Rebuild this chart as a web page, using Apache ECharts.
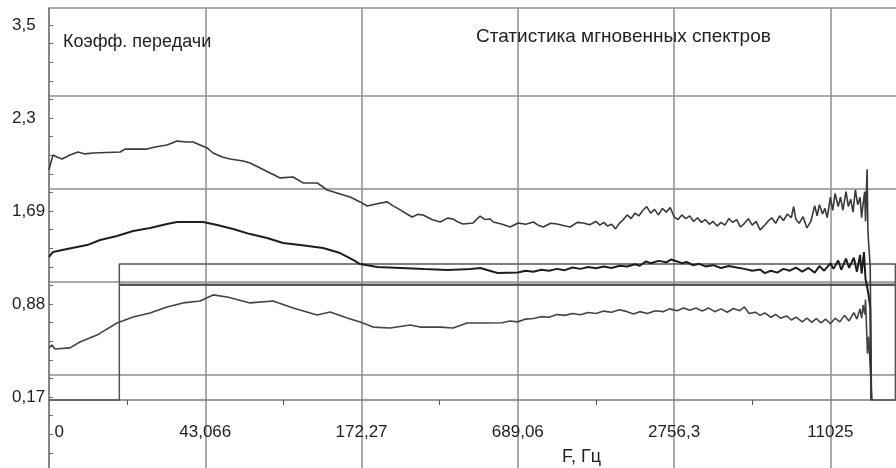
<!DOCTYPE html>
<html lang="ru">
<head>
<meta charset="UTF-8">
<title>Статистика мгновенных спектров</title>
<script src="https://cdn.jsdelivr.net/npm/echarts@6/dist/echarts.min.js"></script>
<style>html,body{margin:0;background:#fff}</style>
</head>
<body>
<div id="main" style="width:896px;height:468px"></div>
<script>
// x is in "steps" from the left edge, one step = x4 in frequency (log scale)
var xLabels = ['0', '43,066', '172,27', '689,06', '2756,3', '11025'];
var xLabelPos = [0.065, 1, 2, 3, 4, 5];
var xMinorTicks = [0.5, 1.5, 2.5, 3.5, 4.5];
// y is in minor-tick units, 0 = baseline of the plot
var yLabels = ['0,17', '0,88', '1,69', '2,3', '3,5'];
var yLabelPos = [0.16, 5.16, 10.16, 15.16, 20.16];

var upper = [
  [0, 12.37], [0.013, 12.8], [0.026, 13.17], [0.051, 13.06], [0.083, 12.96], [0.134, 13.17],
  [0.186, 13.33], [0.23, 13.23], [0.282, 13.28], [0.455, 13.33], [0.487, 13.49], [0.627, 13.49],
  [0.679, 13.6], [0.755, 13.71], [0.819, 13.92], [0.883, 13.87], [0.922, 13.87], [0.967, 13.71],
  [1.012, 13.55], [1.05, 13.28], [1.108, 13.06], [1.159, 12.96], [1.242, 12.85], [1.287, 12.74],
  [1.351, 12.47], [1.415, 12.2], [1.479, 11.94], [1.562, 11.99], [1.626, 11.67], [1.716, 11.67],
  [1.78, 11.29], [1.863, 11.08], [1.927, 10.91], [1.991, 10.65], [2.036, 10.43], [2.1, 10.55],
  [2.164, 10.65], [2.2, 10.45], [2.247, 10.22], [2.29, 10.0], [2.324, 9.84], [2.36, 9.98],
  [2.394, 9.95], [2.45, 9.7], [2.503, 9.57], [2.55, 9.78], [2.586, 9.73], [2.62, 9.55],
  [2.65, 9.46], [2.714, 9.52], [2.759, 9.89], [2.79, 9.7], [2.823, 9.73], [2.843, 9.57],
  [2.9, 9.45], [2.951, 9.3], [3.002, 9.52], [3.05, 9.45], [3.099, 9.57], [3.13, 9.4],
  [3.163, 9.3], [3.21, 9.5], [3.252, 9.46], [3.29, 9.38], [3.335, 9.3], [3.38, 9.55],
  [3.419, 9.52], [3.46, 9.42],
  [3.5, 9.6], [3.525, 9.4], [3.55, 9.55], [3.575, 9.35], [3.6, 9.45], [3.625, 9.2],
  [3.65, 9.5], [3.675, 9.7], [3.7, 9.95], [3.725, 9.75], [3.75, 10.05], [3.775, 9.9],
  [3.8, 10.2], [3.825, 10.4], [3.85, 10.05], [3.875, 10.25], [3.9, 9.95], [3.925, 10.3],
  [3.95, 10.1], [3.975, 10.35], [4.0, 9.85], [4.025, 9.7], [4.05, 9.95], [4.075, 9.75],
  [4.1, 9.9], [4.125, 9.6], [4.15, 9.8], [4.175, 9.55], [4.2, 9.7], [4.225, 9.45],
  [4.25, 9.6], [4.275, 9.35], [4.3, 9.55], [4.325, 9.4], [4.35, 9.75], [4.375, 9.55],
  [4.4, 9.7], [4.425, 9.3], [4.45, 9.5], [4.475, 9.75], [4.5, 9.4], [4.525, 9.6],
  [4.55, 9.15], [4.575, 9.35], [4.6, 9.6], [4.625, 9.8], [4.65, 9.5], [4.675, 9.9],
  [4.7, 9.65], [4.725, 10.0], [4.75, 9.8], [4.765, 10.4], [4.78, 9.7], [4.8, 9.5],
  [4.825, 9.85], [4.85, 9.25], [4.875, 9.6], [4.9, 10.45], [4.915, 9.9], [4.93, 10.5],
  [4.95, 10.0], [4.965, 10.3], [4.98, 9.8], [5.0, 10.9], [5.015, 10.2], [5.03, 11.1],
  [5.05, 10.4], [5.065, 10.9], [5.08, 10.2], [5.1, 11.2], [5.115, 10.4], [5.13, 10.8],
  [5.145, 10.1], [5.16, 11.3], [5.175, 10.5], [5.19, 10.9], [5.2, 9.8], [5.21, 10.6],
  [5.22, 11.2], [5.225, 9.6], [5.235, 12.4], [5.24, 9.2], [5.245, 8.4], [5.25, 7.8],
  [5.255, 7.2], [5.262, 0]
];

var middle = [
  [0, 7.69], [0.026, 7.96], [0.116, 8.12], [0.244, 8.33], [0.327, 8.6], [0.435, 8.82],
  [0.538, 9.09], [0.647, 9.25], [0.755, 9.46], [0.819, 9.57], [0.986, 9.57], [1.076, 9.41],
  [1.178, 9.19], [1.287, 8.92], [1.396, 8.71], [1.498, 8.44], [1.607, 8.33], [1.754, 8.17],
  [1.863, 7.9], [1.946, 7.53], [1.991, 7.31], [2.1, 7.15], [2.25, 7.1], [2.4, 7.04],
  [2.55, 6.99], [2.7, 7.04], [2.76, 7.1], [2.87, 6.83],
  [3.0, 6.85], [3.05, 6.95], [3.1, 6.9], [3.15, 7.0], [3.2, 6.95], [3.25, 7.05],
  [3.3, 6.98], [3.35, 7.12], [3.4, 7.05], [3.45, 7.15], [3.5, 7.08], [3.55, 7.18],
  [3.6, 7.1], [3.65, 7.22], [3.7, 7.18], [3.75, 7.3], [3.78, 7.22], [3.82, 7.45],
  [3.85, 7.35], [3.9, 7.48], [3.95, 7.4], [3.98, 7.55], [4.02, 7.45], [4.05, 7.35],
  [4.08, 7.42], [4.12, 7.25], [4.16, 7.32], [4.2, 7.18], [4.25, 7.25], [4.3, 7.1],
  [4.35, 7.2], [4.4, 7.12], [4.45, 7.05], [4.5, 6.95], [4.55, 7.02], [4.58, 6.82],
  [4.62, 6.95], [4.66, 6.85], [4.7, 7.05], [4.74, 6.95], [4.78, 7.12], [4.82, 6.9],
  [4.86, 7.1], [4.9, 6.85], [4.93, 7.2], [4.96, 6.95], [5.0, 7.35], [5.02, 7.05],
  [5.05, 7.5], [5.07, 7.0], [5.1, 7.6], [5.12, 7.1], [5.15, 7.65], [5.17, 6.9],
  [5.19, 7.8], [5.2, 6.8], [5.215, 7.95], [5.225, 6.5], [5.235, 6.1], [5.245, 5.6],
  [5.255, 5.0], [5.262, 0]
];

var lower = [
  [0, 2.8], [0.019, 2.96], [0.038, 2.74], [0.134, 2.8], [0.198, 3.12], [0.307, 3.49],
  [0.435, 4.14], [0.538, 4.46], [0.647, 4.68], [0.755, 5.0], [0.858, 5.22], [0.967, 5.32],
  [1.05, 5.65], [1.14, 5.54], [1.287, 5.22], [1.434, 5.32], [1.562, 4.95], [1.716, 4.57],
  [1.799, 4.73], [1.908, 4.41], [1.991, 4.19], [2.074, 3.92], [2.183, 3.87], [2.311, 4.03],
  [2.375, 3.92], [2.503, 3.92], [2.586, 3.87], [2.676, 4.14], [2.804, 4.14],
  [2.9, 4.15], [2.95, 4.25], [3.0, 4.2], [3.05, 4.35], [3.1, 4.38], [3.15, 4.48],
  [3.2, 4.45], [3.25, 4.6], [3.3, 4.55], [3.35, 4.65], [3.4, 4.58], [3.45, 4.7],
  [3.5, 4.65], [3.55, 4.78], [3.6, 4.72], [3.65, 4.85], [3.7, 4.75], [3.74, 4.62],
  [3.78, 4.75], [3.83, 4.65], [3.88, 4.8], [3.93, 4.75], [3.97, 4.9], [4.02, 4.8],
  [4.06, 4.95], [4.1, 4.82], [4.14, 4.95], [4.18, 4.78], [4.22, 4.95], [4.26, 4.75],
  [4.3, 4.9], [4.34, 4.72], [4.38, 4.92], [4.42, 4.8], [4.45, 5.0], [4.48, 4.65],
  [4.52, 4.72], [4.55, 4.55], [4.58, 4.68], [4.62, 4.45], [4.65, 4.6], [4.68, 4.4],
  [4.72, 4.52], [4.75, 4.3], [4.78, 4.45], [4.82, 4.2], [4.85, 4.4], [4.88, 4.18],
  [4.91, 4.38], [4.94, 4.15], [4.97, 4.35], [5.0, 4.1], [5.03, 4.4], [5.06, 4.2],
  [5.09, 4.55], [5.12, 4.25], [5.15, 4.7], [5.17, 4.35], [5.19, 4.9], [5.2, 4.4],
  [5.21, 5.1], [5.22, 4.6], [5.225, 5.4], [5.232, 3.8], [5.237, 2.5], [5.245, 3.4],
  [5.256, 1.6], [5.265, 0]
];

// pass band frame and reference level
var band = [[0, 0], [0.45, 0], [0.45, 7.31], [5.416, 7.31], [5.416, 0], [5.26, 0]];
var level = [[0.45, 6.2], [5.42, 6.2]];

var font = "'Liberation Sans', Arial, sans-serif";
var gridColor = '#8e8e8e';

var yTicks = [];
for (var k = -3; k <= 20; k++) yTicks.push(0.16 + k);

var chart = echarts.init(document.getElementById('main'));

function line(data, color, width) {
  return {
    type: 'line',
    data: data,
    showSymbol: false,
    silent: true,
    xAxisIndex: 0,
    yAxisIndex: 0,
    lineStyle: { color: color, width: width }
  };
}

function txt(size) {
  return { fontSize: size, fontWeight: 'normal', color: '#222', fontFamily: font };
}

chart.setOption({
  animation: false,
  backgroundColor: '#fff',
  title: [
    { text: 'Коэфф. передачи', left: 63, top: 33, padding: 0, textStyle: txt(18) },
    { text: 'Статистика мгновенных спектров', left: 476, top: 27, padding: 0, textStyle: txt(19) },
    { text: 'F, Гц', left: 562, top: 448, padding: 0, textStyle: txt(18) }
  ],
  grid: { left: 49, right: 0, top: 8, bottom: 0, containLabel: false, outerBoundsMode: 'none' },
  xAxis: [
    {
      // frequency axis sits on the plot baseline, 68px above the grid bottom
      type: 'value', min: 0, max: 5.42, position: 'bottom', offset: -68,
      axisLine: { onZero: false, lineStyle: { color: '#7a7a7a', width: 1.5 } },
      axisTick: { customValues: xMinorTicks, length: 5, lineStyle: { color: '#555' } },
      axisLabel: {
        customValues: xLabelPos,
        formatter: function (v) { return xLabels[Math.round(v)]; },
        margin: 24, color: '#222', fontSize: 17, fontFamily: font
      },
      splitLine: { show: false }
    },
    {
      type: 'value', min: 0, max: 5.42, interval: 1, position: 'top',
      axisLine: { show: false }, axisTick: { show: false }, axisLabel: { show: false },
      splitLine: { show: true, showMaxLine: false, lineStyle: { color: gridColor, width: 1.5 } }
    }
  ],
  yAxis: [
    {
      type: 'value', min: -3.656, max: 21.075,
      axisLine: { show: true, onZero: false, lineStyle: { color: '#7a7a7a', width: 1.5 } },
      axisTick: { customValues: yTicks, inside: true, length: 4, lineStyle: { color: '#666' } },
      axisLabel: {
        customValues: yLabelPos,
        formatter: function (v) { return yLabels[Math.round((v - 0.16) / 5)]; },
        margin: 37, align: 'left', color: '#222', fontSize: 17, fontFamily: font,
        padding: [0, 0, 8, 0]
      },
      splitLine: { show: false }
    },
    {
      type: 'value', min: -4.816, max: 19.915, interval: 5,
      axisLine: { show: false }, axisTick: { show: false }, axisLabel: { show: false },
      splitLine: { show: true, showMinLine: false, lineStyle: { color: gridColor, width: 1.5 } }
    }
  ],
  series: [
    line(level, '#555', 2.5),
    line(band, '#555', 1.5),
    line(lower, '#444', 1.6),
    line(middle, '#1e1e1e', 2),
    line(upper, '#3a3a3a', 1.6)
  ]
});
</script>
</body>
</html>
